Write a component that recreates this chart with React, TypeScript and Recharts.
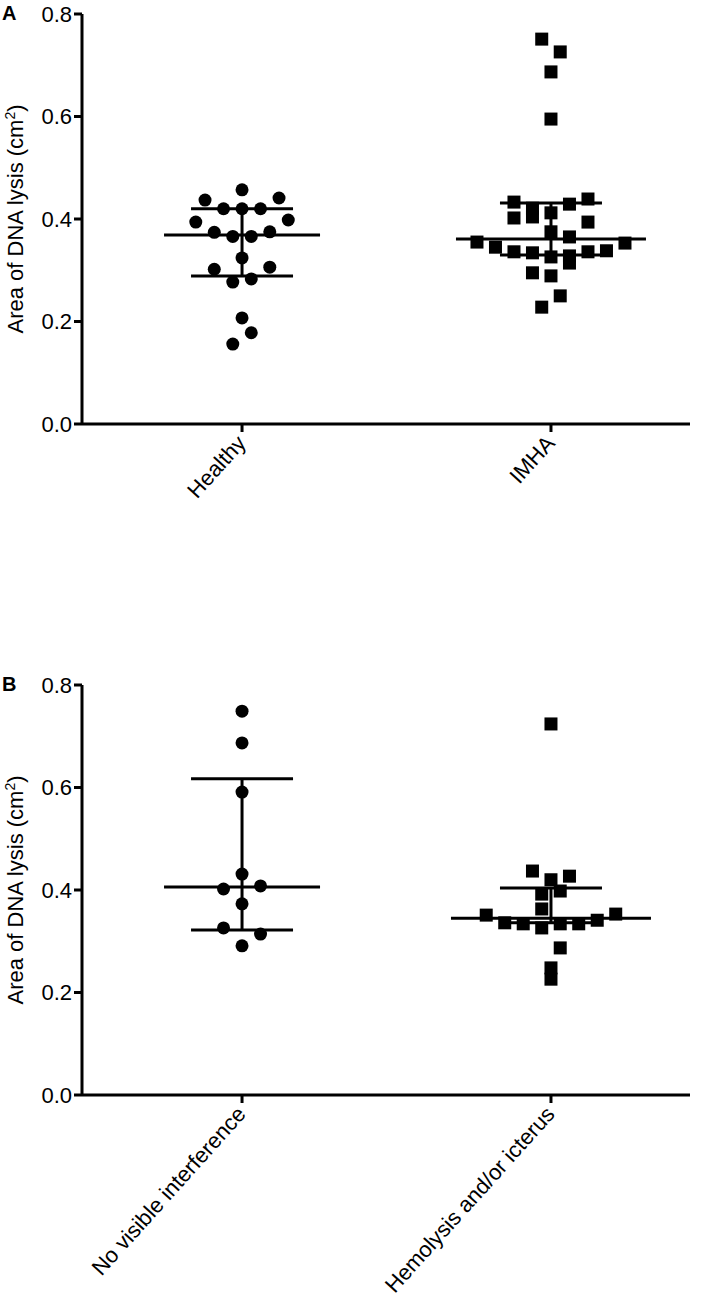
import React from "react";
import { ReferenceLine, Scatter, ScatterChart, XAxis, YAxis } from "recharts";

// values (area of DNA lysis, cm²), in the order they fill each row
const panelACategories = ["Healthy", "IMHA"];
const healthy = [
  0.156, 0.178, 0.207, 0.277, 0.283, 0.302, 0.306, 0.324, 0.366, 0.366, 0.374,
  0.375, 0.394, 0.398, 0.42, 0.42, 0.42, 0.437, 0.441, 0.457,
];
const imha = [
  0.751, 0.726, 0.687, 0.595, 0.412, 0.421, 0.429, 0.433, 0.439, 0.375, 0.404,
  0.365, 0.402, 0.394, 0.326, 0.334, 0.328, 0.336, 0.336, 0.345, 0.338, 0.355,
  0.353, 0.289, 0.295, 0.314, 0.228, 0.25,
];
const panelAMedian = [0.369, 0.361];
const panelALower = [0.289, 0.33];
const panelAUpper = [0.42, 0.431];

const panelBCategories = ["No visible interference", "Hemolysis and/or icterus"];
const noInterference = [0.749, 0.687, 0.591, 0.431, 0.373, 0.402, 0.408, 0.291, 0.326, 0.314];
const hemolysisIcterus = [
  0.724, 0.42, 0.437, 0.427, 0.392, 0.398, 0.363, 0.334, 0.334, 0.334, 0.336,
  0.341, 0.351, 0.353, 0.326, 0.287, 0.248, 0.226,
];
const panelBMedian = [0.406, 0.345];
const panelBLower = [0.322, 0.336];
const panelBUpper = [0.617, 0.404];

const yTicks = [0, 0.2, 0.4, 0.6, 0.8];

// layout
const FONT = "'Liberation Sans', Arial, sans-serif";
const WIDTH = 709;
const Y_AXIS_W = 82;
const RIGHT = 19;
const PLOT_H = 410;
const X_DOMAIN: [number, number] = [-0.518, 1.45];
const PX_PER_UNIT = (WIDTH - Y_AXIS_W - RIGHT) / (X_DOMAIN[1] - X_DOMAIN[0]);
const SLOT_PX = 18.5;
const BIN_WIDTH = 0.045;
const CAP_HALF = 51 / PX_PER_UNIT;

// column-scatter spread: values are binned by height, each bin fanned out
// around the centre in the order the values come
function swarmSlots(values: number[], origin: number) {
  const bins = new Map<number, number[]>();
  values.forEach((v, i) => {
    const b = Math.floor((v - origin) / BIN_WIDTH + 1e-9);
    if (!bins.has(b)) bins.set(b, []);
    bins.get(b)!.push(i);
  });
  const slots = values.map(() => 0);
  bins.forEach((idx) => {
    const n = idx.length;
    idx.forEach((p, k) => {
      slots[p] =
        n % 2
          ? k === 0
            ? 0
            : Math.ceil(k / 2) * (k % 2 ? -1 : 1)
          : (Math.floor(k / 2) + 0.5) * (k % 2 ? 1 : -1);
    });
  });
  return slots;
}

const Dot = (p: any) => <circle cx={p.cx} cy={p.cy} r={6.5} fill="#000" />;
const Square = (p: any) => (
  <rect x={p.cx - 6.5} y={p.cy - 6.5} width={13} height={13} fill="#000" />
);

const YLabel = (props: any) => {
  const vb = props.viewBox ?? { x: 0, y: 14, width: Y_AXIS_W, height: PLOT_H };
  const cx = vb.x + 23;
  const cy = vb.y + vb.height / 2;
  return (
    <text
      x={cx}
      y={cy}
      transform={`rotate(-90, ${cx}, ${cy})`}
      textAnchor="middle"
      fontSize={22}
      fontFamily={FONT}
      fill="#000"
    >
      Area of DNA lysis (cm
      <tspan dy={-8} fontSize={14}>
        2
      </tspan>
      <tspan dy={8}>)</tspan>
    </text>
  );
};

function Panel({
  categories,
  groups,
  medians,
  lower,
  upper,
  binOrigin,
  medianHalfPx,
  height,
}: {
  categories: string[];
  groups: number[][];
  medians: number[];
  lower: number[];
  upper: number[];
  binOrigin: number;
  medianHalfPx: number[];
  height: number;
}) {
  const series = groups.map((vals, gi) => {
    const slots = swarmSlots(vals, binOrigin);
    return vals.map((v, i) => ({ x: gi + (slots[i] * SLOT_PX) / PX_PER_UNIT, y: v }));
  });
  const line = { stroke: "#000", strokeWidth: 3 };
  const bars = categories.flatMap((_, i) => {
    const mh = medianHalfPx[i] / PX_PER_UNIT;
    return [
      <ReferenceLine key={`m${i}`} segment={[{ x: i - mh, y: medians[i] }, { x: i + mh, y: medians[i] }]} {...line} />,
      <ReferenceLine key={`v${i}`} segment={[{ x: i, y: lower[i] }, { x: i, y: upper[i] }]} {...line} />,
      <ReferenceLine key={`u${i}`} segment={[{ x: i - CAP_HALF, y: upper[i] }, { x: i + CAP_HALF, y: upper[i] }]} {...line} />,
      <ReferenceLine key={`l${i}`} segment={[{ x: i - CAP_HALF, y: lower[i] }, { x: i + CAP_HALF, y: lower[i] }]} {...line} />,
    ];
  });
  return (
    <ScatterChart
      width={WIDTH}
      height={height}
      margin={{ top: 14, right: RIGHT, bottom: 0, left: 0 }}
    >
      <XAxis
        type="number"
        dataKey="x"
        domain={X_DOMAIN}
        ticks={[0, 1]}
        interval={0}
        allowDataOverflow
        height={height - 14 - PLOT_H}
        tickSize={8}
        axisLine={line}
        tickLine={line}
        tick={(p: any) => {
          const tx = p.x + 5;
          const ty = p.y + 10;
          return (
            <text
              x={tx}
              y={ty}
              transform={`rotate(-48, ${tx}, ${ty})`}
              textAnchor="end"
              fontSize={22}
              fontFamily={FONT}
              fill="#000"
            >
              {categories[p.payload.value]}
            </text>
          );
        }}
      />
      <YAxis
        type="number"
        dataKey="y"
        domain={[0, 0.8]}
        ticks={yTicks}
        interval={0}
        width={Y_AXIS_W}
        tickSize={8}
        axisLine={line}
        tickLine={line}
        tickFormatter={(v: number) => v.toFixed(1)}
        tick={{ fontSize: 22, fontFamily: FONT, fill: "#000" }}
        label={(p: any) => <YLabel {...p} />}
      />
      {bars}
      <Scatter data={series[0]} shape={Dot} isAnimationActive={false} />
      <Scatter data={series[1]} shape={Square} isAnimationActive={false} />
    </ScatterChart>
  );
}

const letter: React.CSSProperties = {
  position: "absolute",
  left: 2,
  fontFamily: FONT,
  fontWeight: "bold",
  fontSize: 20,
  lineHeight: "20px",
  color: "#000",
};

export default function App() {
  return (
    <div style={{ position: "absolute", left: 0, top: 0, width: WIDTH, height: 1303, background: "#fff" }}>
      <div style={{ position: "absolute", left: 0, top: 0 }}>
        <Panel
          categories={panelACategories}
          groups={[healthy, imha]}
          medians={panelAMedian}
          lower={panelALower}
          upper={panelAUpper}
          binOrigin={0}
          medianHalfPx={[78, 95]}
          height={600}
        />
      </div>
      <div style={{ position: "absolute", left: 0, top: 671 }}>
        <Panel
          categories={panelBCategories}
          groups={[noInterference, hemolysisIcterus]}
          medians={panelBMedian}
          lower={panelBLower}
          upper={panelBUpper}
          binOrigin={0.012}
          medianHalfPx={[78, 100]}
          height={632}
        />
      </div>
      <div style={{ ...letter, top: 2.5 }}>A</div>
      <div style={{ ...letter, top: 674 }}>B</div>
    </div>
  );
}
